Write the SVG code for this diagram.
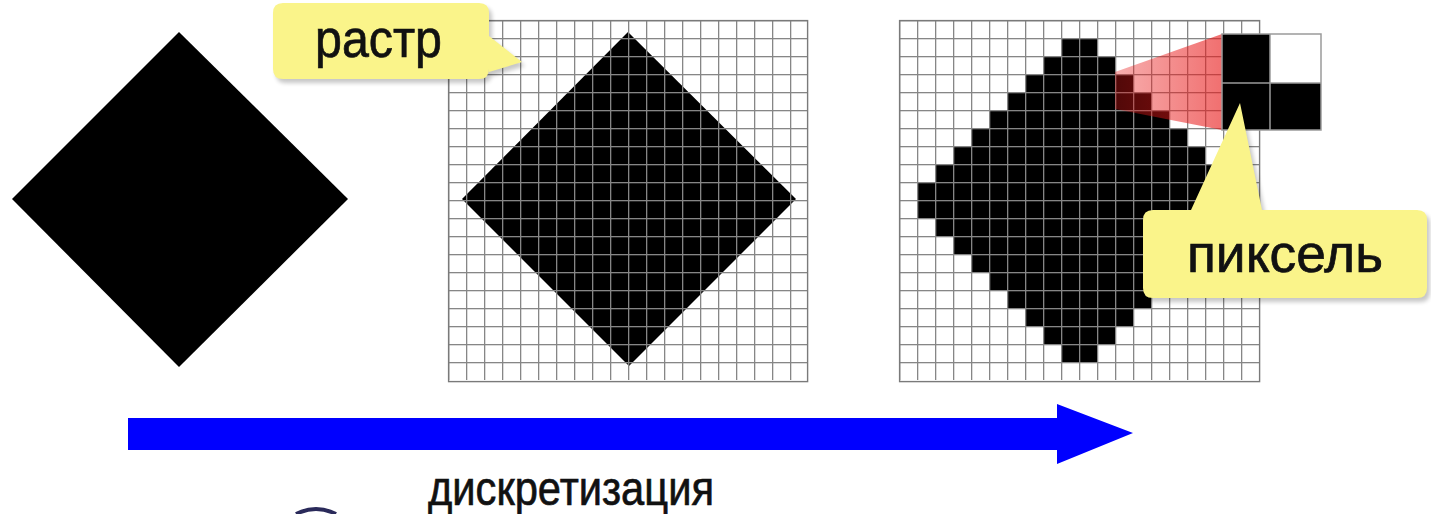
<svg xmlns="http://www.w3.org/2000/svg" width="1431" height="514" viewBox="0 0 1431 514">
  <style>
    .lbl { font-family: "Liberation Sans", Arial, sans-serif; fill: #111; stroke: #111; stroke-width: 0.7; }
    .callout { fill: #faf48a; }
    .shadow { fill: #000; opacity: 0.22; filter: url(#blur); }
    .frame { fill: none; stroke: #7a7a7a; stroke-width: 1.4; }
  </style>
  <defs>
    <pattern id="grid" patternUnits="userSpaceOnUse" x="0" y="0" width="18" height="18">
      <rect x="0" y="0" width="18" height="1.3" fill="#868686"/>
      <rect x="0" y="0" width="1.3" height="18" fill="#868686"/>
    </pattern>
    <linearGradient id="redfade" x1="0" y1="0" x2="1" y2="0">
      <stop offset="0" stop-color="#e81818" stop-opacity="0.35"/>
      <stop offset="1" stop-color="#e81818" stop-opacity="0.62"/>
    </linearGradient>
    <filter id="blur" x="-10%" y="-10%" width="120%" height="130%">
      <feGaussianBlur stdDeviation="2"/>
    </filter>
  </defs>

  <rect x="0" y="0" width="1431" height="514" fill="#ffffff"/>

  <!-- original shape -->
  <g id="shape">
    <polygon points="179,32 348,199 179,367 12,199" fill="#000"/>
  </g>

  <!-- raster grid over the shape -->
  <g id="raster" transform="translate(448,20)">
    <polygon points="180,12 348,179 181,346 14,179" fill="#000"/>
    <rect x="0" y="0" width="360" height="360" fill="url(#grid)"/>
    <rect x="0.6" y="0.6" width="359" height="361" class="frame"/>
  </g>

  <!-- pixelated shape -->
  <g id="pixels" transform="translate(899,20)">
    <g fill="#000">
      <rect x="162" y="18" width="36" height="18"/>
      <rect x="144" y="36" width="72" height="18"/>
      <rect x="126" y="54" width="108" height="18"/>
      <rect x="108" y="72" width="144" height="18"/>
      <rect x="90" y="90" width="180" height="18"/>
      <rect x="72" y="108" width="216" height="18"/>
      <rect x="54" y="126" width="252" height="18"/>
      <rect x="36" y="144" width="288" height="18"/>
      <rect x="18" y="162" width="324" height="18"/>
      <rect x="18" y="180" width="324" height="18"/>
      <rect x="36" y="198" width="288" height="18"/>
      <rect x="54" y="216" width="252" height="18"/>
      <rect x="72" y="234" width="216" height="18"/>
      <rect x="90" y="252" width="180" height="18"/>
      <rect x="108" y="270" width="144" height="18"/>
      <rect x="126" y="288" width="108" height="18"/>
      <rect x="144" y="306" width="72" height="18"/>
      <rect x="162" y="324" width="36" height="18"/>
    </g>
    <rect x="0" y="0" width="360" height="360" fill="url(#grid)"/>
    <rect x="0.6" y="0.6" width="360" height="361" class="frame"/>
  </g>

  <!-- magnifier -->
  <g id="magnifier">
    <polygon points="1115,72 1222,34 1222,130 1115,109" fill="url(#redfade)"/>
    <rect x="1222" y="34" width="99" height="96" fill="#fff"/>
    <rect x="1222" y="34" width="48" height="49" fill="#000"/>
    <rect x="1222" y="83" width="48" height="47" fill="#000"/>
    <rect x="1270" y="83" width="51" height="47" fill="#000"/>
    <g fill="none" stroke="#9a9a9a" stroke-width="1.5">
      <rect x="1222" y="34" width="99" height="96"/>
      <line x1="1270" y1="34" x2="1270" y2="130"/>
      <line x1="1222" y1="83" x2="1321" y2="83"/>
    </g>
  </g>

  <!-- callout: raster -->
  <g id="callout-raster">
    <path class="shadow" transform="translate(3,4)" d="M283,3 H479 Q489,3 489,13 V36 L522,62 L489,72 V69 Q489,79 479,79 H283 Q273,79 273,69 V13 Q273,3 283,3 Z"/>
    <path class="callout" d="M283,3 H479 Q489,3 489,13 V36 L522,62 L489,72 V69 Q489,79 479,79 H283 Q273,79 273,69 V13 Q273,3 283,3 Z"/>
    <text class="lbl" x="315" y="57" font-size="54" textLength="127" lengthAdjust="spacingAndGlyphs">растр</text>
  </g>

  <!-- callout: pixel -->
  <g id="callout-pixel">
    <path class="shadow" transform="translate(3,4)" d="M1153,210 H1191 L1240,103 L1262,210 H1417 Q1427,210 1427,220 V288 Q1427,298 1417,298 H1153 Q1143,298 1143,288 V220 Q1143,210 1153,210 Z"/>
    <path class="callout" d="M1153,210 H1191 L1240,103 L1262,210 H1417 Q1427,210 1427,220 V288 Q1427,298 1417,298 H1153 Q1143,298 1143,288 V220 Q1143,210 1153,210 Z"/>
    <text class="lbl" x="1187" y="272" font-size="54" textLength="196" lengthAdjust="spacingAndGlyphs">пиксель</text>
  </g>

  <!-- connector: discretization arrow -->
  <g id="connectors">
    <polygon points="128,418 1057,418 1057,404 1133,433 1057,464 1057,450 128,450" fill="#0000ff"/>
  </g>

  <g id="arrow-label">
    <text class="lbl" x="428" y="505" font-size="49" textLength="286" lengthAdjust="spacingAndGlyphs">дискретизация</text>
  </g>

  <!-- partial shape at bottom edge -->
  <g id="partial">
    <path d="M296,514 Q316,504 336,514" fill="none" stroke="#2a2a5a" stroke-width="4"/>
  </g>
</svg>
